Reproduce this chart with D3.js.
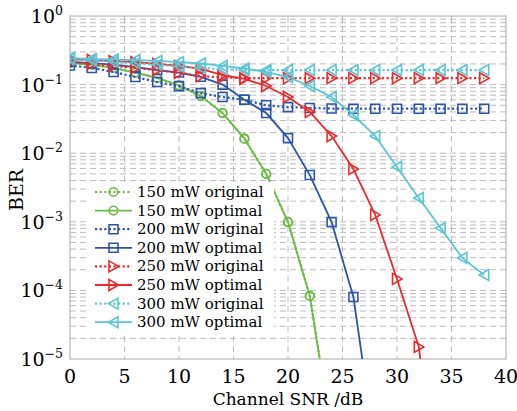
<!DOCTYPE html>
<html>
<head>
<meta charset="utf-8">
<script src="https://cdn.jsdelivr.net/npm/d3@7"></script>
<style>
body { margin: 0; background: #fff; }
text { font-family: "DejaVu Serif", serif; fill: #000; }
</style>
</head>
<body>
<div id="chart"></div>
<script>
// channel SNR (dB) sample points
var snr = [0, 2, 4, 6, 8, 10, 12, 14, 16, 18, 20, 22, 24, 26, 28, 30, 32, 34, 36, 38];

// BER values
var ber150Original = [0.205, 0.195, 0.175, 0.15, 0.125, 0.097, 0.068, 0.0385, 0.0163, 0.005, 0.00099, 0.000083, 0.0000008];
var ber150Optimal = [0.205, 0.195, 0.175, 0.15, 0.125, 0.097, 0.068, 0.0385, 0.0163, 0.005, 0.00099, 0.000083, 0.0000008];
var ber200Original = [0.19, 0.175, 0.153, 0.129, 0.109, 0.095, 0.075, 0.066, 0.06, 0.05, 0.047, 0.0456, 0.0448, 0.0445, 0.0445, 0.0445, 0.0445, 0.0445, 0.0445, 0.0445];
var ber200Optimal = [0.215, 0.205, 0.195, 0.18, 0.163, 0.15, 0.13, 0.1, 0.06, 0.0385, 0.0166, 0.0048, 0.00099, 0.00008, 0.0000005];
var ber250Original = [0.213, 0.2, 0.187, 0.175, 0.163, 0.148, 0.133, 0.127, 0.124, 0.124, 0.124, 0.124, 0.124, 0.124, 0.124, 0.124, 0.124, 0.124, 0.124, 0.124];
var ber250Optimal = [0.236, 0.228, 0.22, 0.213, 0.2, 0.187, 0.169, 0.138, 0.121, 0.0954, 0.066, 0.0399, 0.0178, 0.00589, 0.00126, 0.000147, 0.000015, 0.00000005];
var ber300Original = [0.235, 0.225, 0.215, 0.205, 0.195, 0.185, 0.175, 0.168, 0.163, 0.163, 0.163, 0.163, 0.163, 0.163, 0.163, 0.163, 0.163, 0.163, 0.163, 0.163];
var ber300Optimal = [0.244, 0.236, 0.232, 0.228, 0.221, 0.213, 0.203, 0.187, 0.172, 0.153, 0.129, 0.0954, 0.066, 0.036, 0.0178, 0.0063, 0.00222, 0.00081, 0.000297, 0.000168];

var xTicks = [0, 5, 10, 15, 20, 25, 30, 35, 40];
var yExponents = [0, -1, -2, -3, -4, -5];

var series = [
    { label: "150 mW original", values: ber150Original, color: "#6cbd45", dotted: true, marker: "circle" },
    { label: "150 mW optimal", values: ber150Optimal, color: "#6cbd45", dotted: false, marker: "circle" },
    { label: "200 mW original", values: ber200Original, color: "#2b55a8", dotted: true, marker: "square" },
    { label: "200 mW optimal", values: ber200Optimal, color: "#2b55a8", dotted: false, marker: "square" },
    { label: "250 mW original", values: ber250Original, color: "#ec2a2c", dotted: true, marker: "right" },
    { label: "250 mW optimal", values: ber250Optimal, color: "#ec2a2c", dotted: false, marker: "right" },
    { label: "300 mW original", values: ber300Original, color: "#5cc5d5", dotted: true, marker: "left" },
    { label: "300 mW optimal", values: ber300Optimal, color: "#5cc5d5", dotted: false, marker: "left" }
];

// plot box
var svgWidth = 517;
var svgHeight = 411;
var margin = { top: 16, right: 11, bottom: 52, left: 70 };
var width = svgWidth - margin.left - margin.right;
var height = svgHeight - margin.top - margin.bottom;

var svg = d3.select("#chart").append("svg")
    .attr("width", svgWidth)
    .attr("height", svgHeight);

var chartGroup = svg.append("g")
    .attr("transform", `translate(${margin.left}, ${margin.top})`);

var xScale = d3.scaleLinear().domain([0, 40]).range([0, width]);
var yScale = d3.scaleLog().domain([1e-5, 1]).range([height, 0]);

// dashed grid
var gridValues = [];
yExponents.slice(1).forEach(function(e) {
    for (var k = 1; k <= 9; k++) gridValues.push(k * Math.pow(10, e));
});
chartGroup.selectAll(".hgrid")
    .data(gridValues.filter(v => v > 1e-5))
    .enter().append("line")
    .attr("x1", 0).attr("x2", width)
    .attr("y1", d => yScale(d)).attr("y2", d => yScale(d))
    .attr("stroke", "#bdbdbd").attr("stroke-width", 1)
    .attr("stroke-dasharray", "6,4");

chartGroup.selectAll(".vgrid")
    .data(xTicks.slice(1, -1))
    .enter().append("line")
    .attr("x1", d => xScale(d)).attr("x2", d => xScale(d))
    .attr("y1", 0).attr("y2", height)
    .attr("stroke", "#bdbdbd").attr("stroke-width", 1)
    .attr("stroke-dasharray", "6,4");

// box
chartGroup.append("rect")
    .attr("width", width).attr("height", height)
    .attr("fill", "none").attr("stroke", "#a8a8a8").attr("stroke-width", 1);

// tick labels
chartGroup.selectAll(".xlab")
    .data(xTicks)
    .enter().append("text")
    .attr("x", d => xScale(d))
    .attr("y", height + 24)
    .attr("text-anchor", "middle")
    .attr("font-size", "19px")
    .text(d => d);

var yLab = chartGroup.selectAll(".ylab")
    .data(yExponents)
    .enter().append("text")
    .attr("x", -7)
    .attr("y", d => yScale(Math.pow(10, d)) + 7)
    .attr("text-anchor", "end")
    .attr("font-size", "19px");
yLab.append("tspan").text("10");
yLab.append("tspan")
    .attr("dy", -8)
    .attr("font-size", "12.5px")
    .text(d => d === 0 ? "0" : "\u2212" + (-d));

// axis titles
svg.append("text")
    .attr("x", margin.left + width / 2)
    .attr("y", 405)
    .attr("text-anchor", "middle")
    .attr("font-size", "17px")
    .text("Channel SNR /dB");

svg.append("text")
    .attr("transform", "translate(23, 190) rotate(-90)")
    .attr("text-anchor", "middle")
    .attr("font-size", "19px")
    .text("BER");

// markers
function markerPath(type) {
    if (type === "square") return "M-4.5,-4.5H4.5V4.5H-4.5Z";
    if (type === "right") return "M-4.5,-5.5L5,0L-4.5,5.5Z";
    if (type === "left") return "M4.5,-5.5L-5,0L4.5,5.5Z";
    return "M4.3,0A4.3,4.3 0 1,1 -4.3,0A4.3,4.3 0 1,1 4.3,0Z";
}

chartGroup.append("clipPath").attr("id", "plotClip")
    .append("rect").attr("width", width).attr("height", height);

var plotGroup = chartGroup.append("g").attr("clip-path", "url(#plotClip)");

var line = d3.line()
    .x((d, i) => xScale(snr[i]))
    .y(d => yScale(d));

series.forEach(function(s) {
    var g = plotGroup.append("g");
    g.append("path")
        .attr("d", line(s.values))
        .attr("fill", "none")
        .attr("stroke", s.color)
        .attr("stroke-width", s.dotted ? 2.2 : 1.8)
        .attr("stroke-dasharray", s.dotted ? "2.2,2.4" : null);
    g.selectAll("path.m")
        .data(s.values.map((v, i) => [snr[i], v]).filter(d => d[1] >= 1e-5))
        .enter().append("path")
        .attr("class", "m")
        .attr("transform", d => `translate(${xScale(d[0])}, ${yScale(d[1])})`)
        .attr("d", markerPath(s.marker))
        .attr("fill", "none")
        .attr("stroke", s.color)
        .attr("stroke-width", 1.6);
});

// legend
var legend = svg.append("g");
legend.append("rect")
    .attr("x", 90).attr("y", 182)
    .attr("width", 184).attr("height", 150)
    .attr("fill", "#fff");

var legendItem = legend.selectAll(".item")
    .data(series)
    .enter().append("g")
    .attr("transform", (d, i) => `translate(0, ${192 + i * 18.6})`);

legendItem.append("line")
    .attr("x1", 95).attr("x2", 132)
    .attr("y1", 0).attr("y2", 0)
    .attr("stroke", d => d.color)
    .attr("stroke-width", d => d.dotted ? 2.2 : 1.8)
    .attr("stroke-dasharray", d => d.dotted ? "2.2,2.4" : null);

legendItem.append("path")
    .attr("transform", "translate(113.5, 0)")
    .attr("d", d => markerPath(d.marker))
    .attr("fill", "none")
    .attr("stroke", d => d.color)
    .attr("stroke-width", 1.6);

legendItem.append("text")
    .attr("x", 137)
    .attr("y", 5)
    .attr("font-size", "15px")
    .text(d => d.label);
</script>
</body>
</html>
